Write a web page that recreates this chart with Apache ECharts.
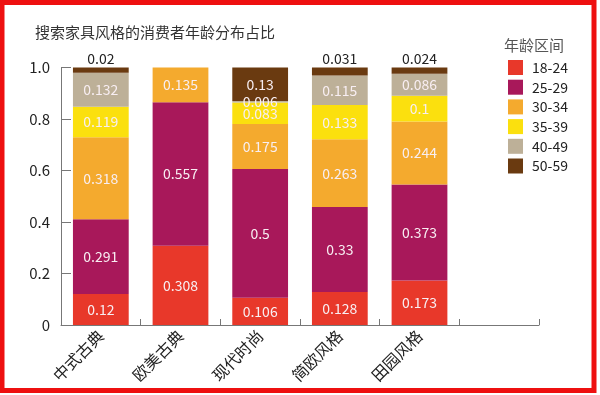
<!DOCTYPE html>
<html><head><meta charset="utf-8">
<script src="https://cdn.jsdelivr.net/npm/echarts@6/dist/echarts.min.js"></script>
<style>html,body{margin:0;padding:0;background:#fff}#c{width:600px;height:395px}</style>
</head><body><div id="c"></div>
<script>
const categories = ['中式古典','欧美古典','现代时尚','简欧风格','田园风格',''];
const ageGroups = ['18-24','25-29','30-34','35-39','40-49','50-59'];
const s18_24 = [0.12, 0.308, 0.106, 0.128, 0.173];
const s25_29 = [0.291, 0.557, 0.5, 0.33, 0.373];
const s30_34 = [0.318, 0.135, 0.175, 0.263, 0.244];
const s35_39 = [0.119, null, 0.083, 0.133, 0.1];
const s40_49 = [0.132, null, 0.006, 0.115, 0.086];
const s50_59 = [0.02, null, 0.13, 0.031, 0.024];
const yTicks = ['0','0.2','0.4','0.6','0.8','1.0'];
const colors = ['#e8382a','#a8185a','#f4aa2e','#fbe00e','#bdb098','#6a3a10'];
const allData = [s18_24, s25_29, s30_34, s35_39, s40_49, s50_59];
const FONT = '"Noto Sans CJK SC", "Noto Sans", sans-serif';

const series = ageGroups.map((name, i) => ({
  name, type: 'bar', stack: 'total', barCategoryGap: '30%',
  itemStyle: { color: colors[i] },
  data: allData[i].map((v, j) => {
    const d = { value: v };
    if (i === 5 && v !== null && v < 0.05) {
      d.label = { position: 'top', color: '#222', distance: 2 };
    }
    return d;
  }),
  label: {
    show: true, position: 'inside', color: '#f8eef2', fontSize: 14, fontFamily: FONT,
    formatter: p => p.value == null ? '' : String(p.value)
  }
}));

const chart = echarts.init(document.getElementById('c'));
chart.setOption({
  backgroundColor: '#fff',
  animation: false,
  title: { text: '搜索家具风格的消费者年龄分布占比', left: 30, top: 20,
    textStyle: { fontSize: 15, fontWeight: 'normal', color: '#333', fontFamily: FONT } },
  legend: {
    orient: 'vertical', left: 503, top: 55, itemWidth: 15, itemHeight: 15, itemGap: 4.7,
    icon: 'rect', textStyle: { fontSize: 14, color: '#222', fontFamily: FONT, padding: [0, 0, 0, 4] },
    data: ageGroups
  },
  graphic: [
    { type: 'text', left: 504, top: 38, style: { text: '年龄区间', font: '15px ' + FONT, fill: '#555' } },
    { type: 'rect', shape: { x: 2, y: 2.5, width: 592, height: 388 },
      style: { fill: 'none', stroke: '#ee1010', lineWidth: 5 } }
  ],
  grid: { left: 61, right: 61, top: 67.5, bottom: 70 },
  xAxis: {
    type: 'category', data: categories,
    axisLine: { lineStyle: { color: '#777' } },
    axisTick: { show: true, inside: true, length: 6, lineStyle: { color: '#777' } },
    axisLabel: { rotate: 45, fontSize: 16, color: '#222', fontFamily: FONT, margin: 8 }
  },
  yAxis: {
    type: 'value', min: 0, max: 1, interval: 0.2,
    splitLine: { show: false },
    axisLine: { show: true, lineStyle: { color: '#777' } },
    axisTick: { show: true, inside: true, length: 10, lineStyle: { color: '#777' } },
    axisLabel: { fontSize: 15, color: '#222', fontFamily: FONT, margin: 11,
      formatter: v => yTicks[Math.round(v / 0.2)] }
  },
  series
});
</script></body></html>
